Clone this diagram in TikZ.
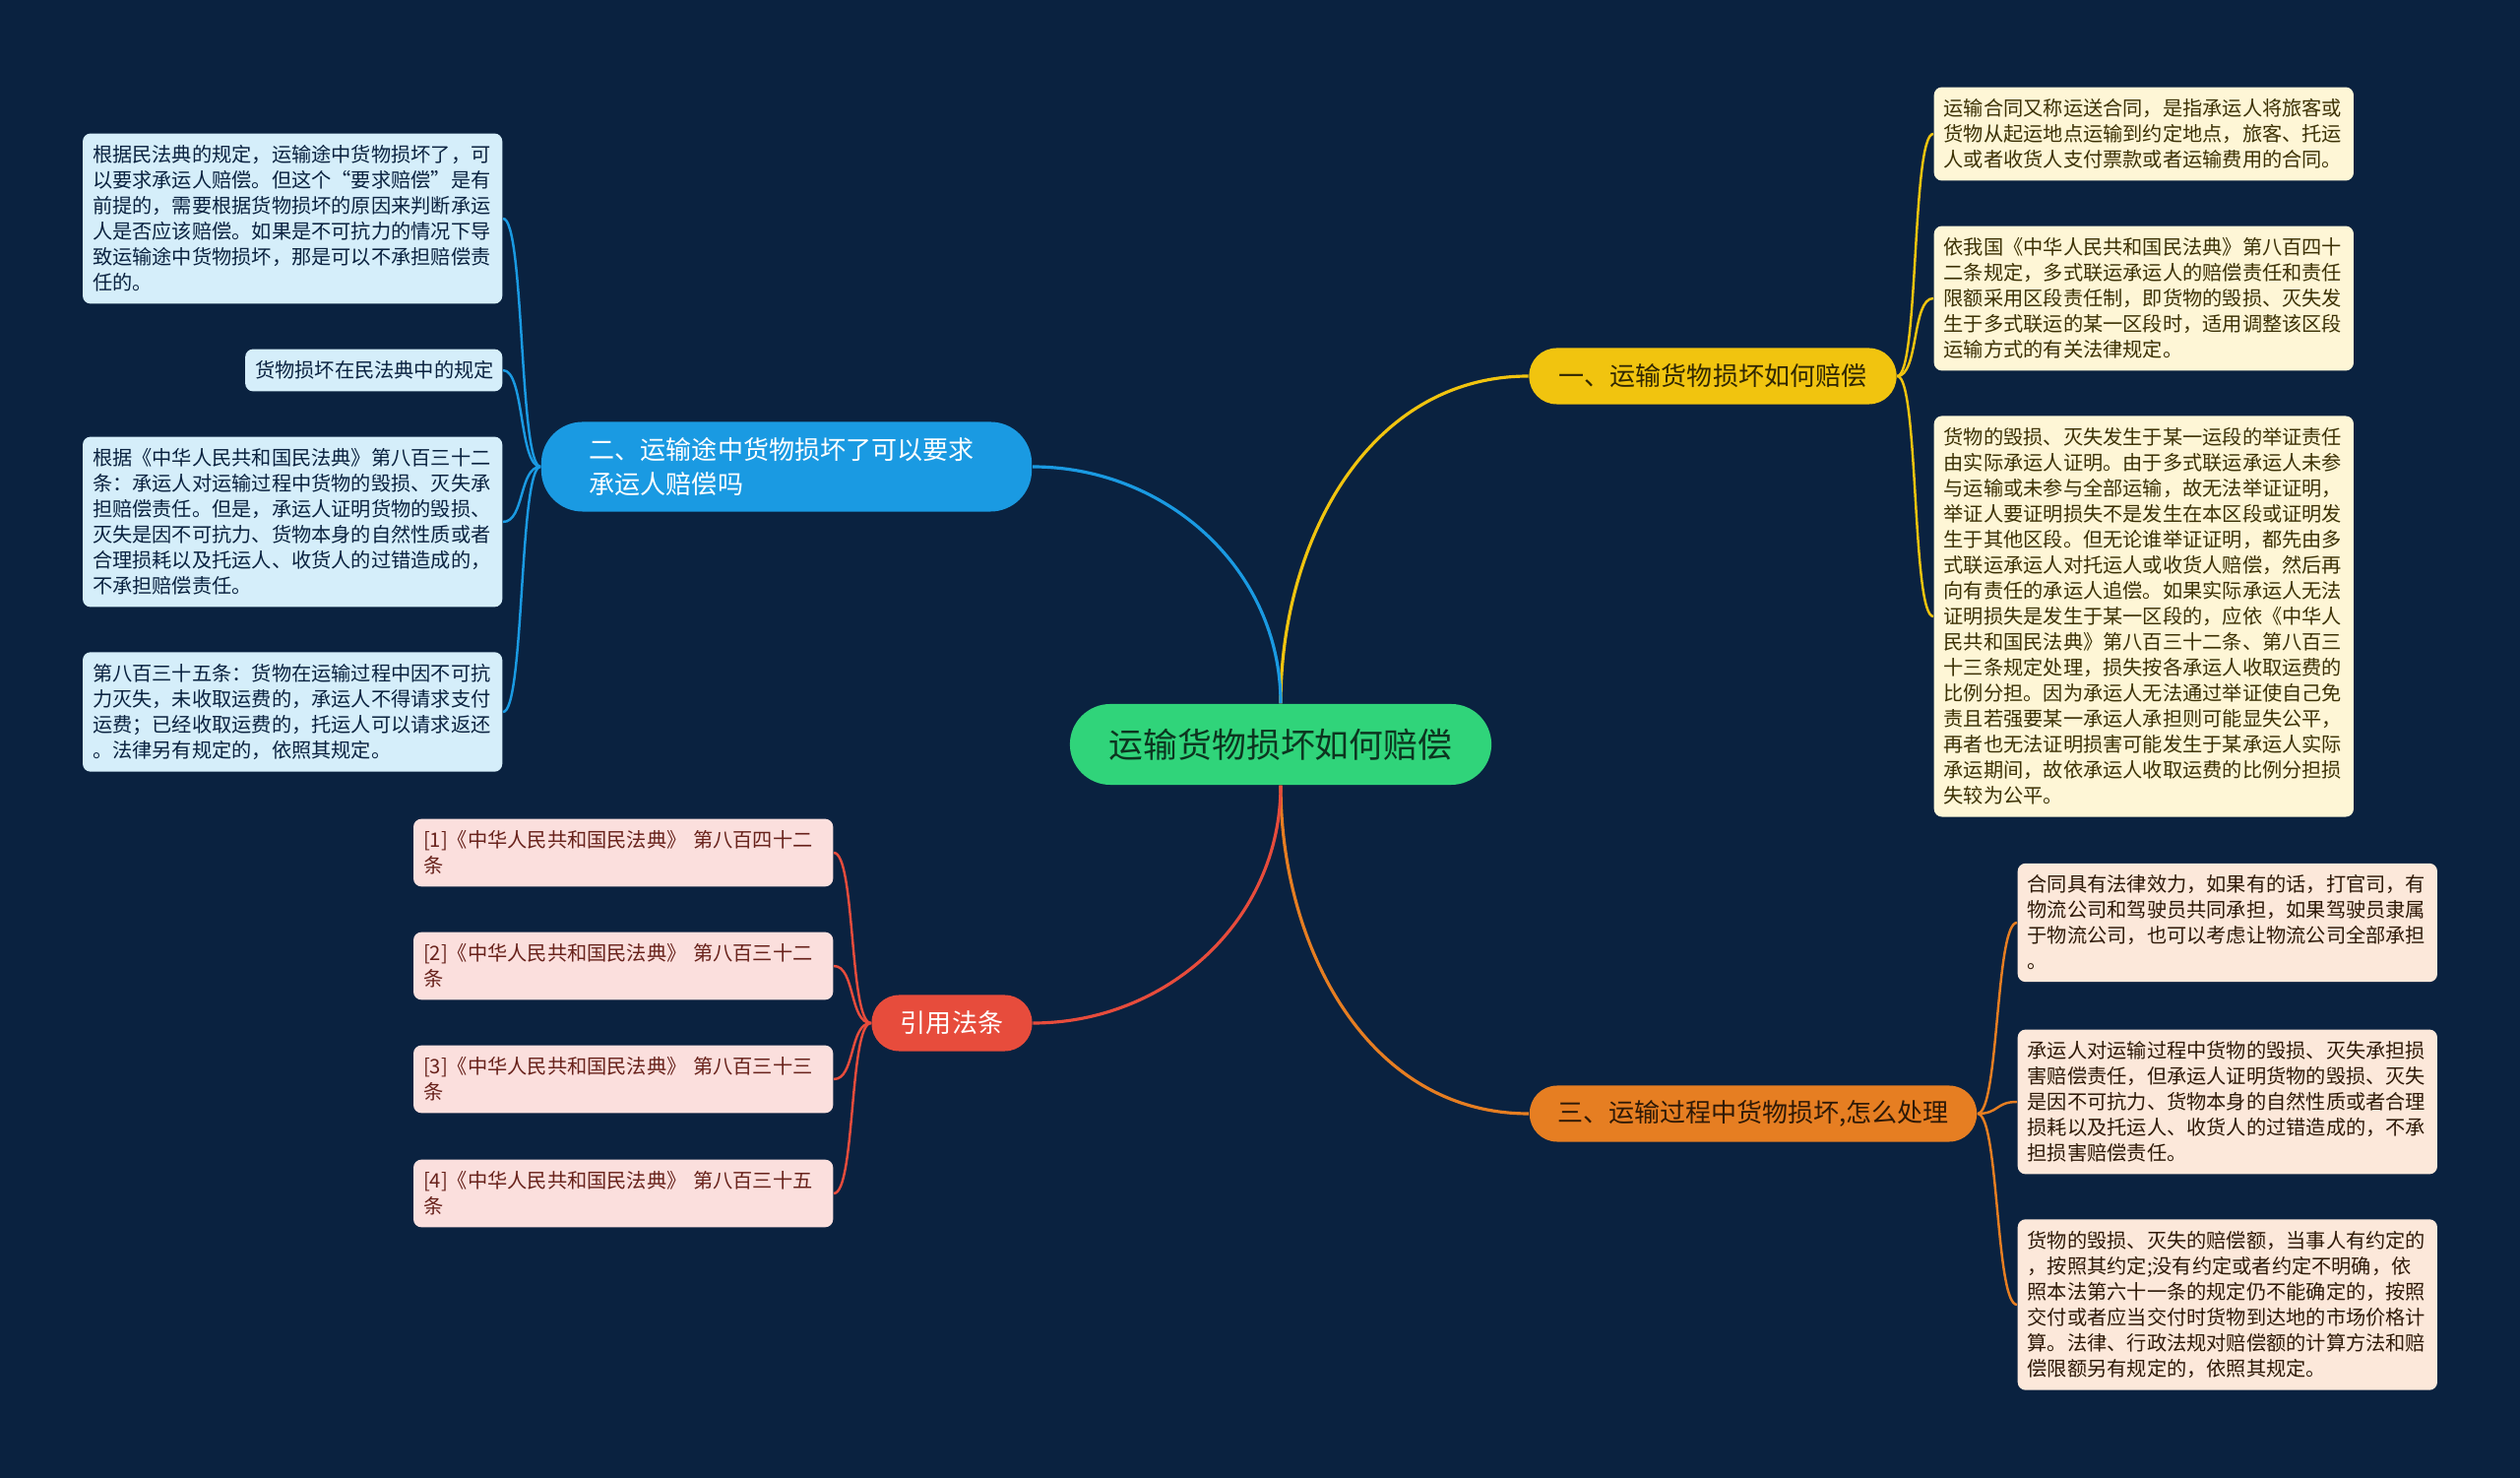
\documentclass[tikz,border=0pt]{standalone}
\usepackage{fontspec}
\setmainfont{Noto Sans CJK SC}
\usepackage{xcolor}
\usetikzlibrary{positioning}
\definecolor{Navy}{HTML}{0A2240}
\definecolor{RootGreen}{HTML}{30D47A}
\definecolor{SunYellow}{HTML}{F1C40F}
\definecolor{SkyBlue}{HTML}{1A9AE2}
\definecolor{Carrot}{HTML}{E67E22}
\definecolor{Brick}{HTML}{E74C3C}
\definecolor{CreamLeaf}{HTML}{FEF6D6}
\definecolor{IceLeaf}{HTML}{D5EEFA}
\definecolor{PeachLeaf}{HTML}{FCE8DA}
\definecolor{RoseLeaf}{HTML}{FBDFDD}
\tikzset{
  leaf/.style={rounded corners=0.08cm, inner xsep=0.1cm, inner ysep=0.12cm,
    text width=4.06cm, align=left, font=\fontsize{5.75pt}{7.4pt}\selectfont},
  branch/.style={rounded corners=0.28cm, inner xsep=0.25cm, minimum height=0.57cm,
    font=\fontsize{7.4pt}{9.7pt}\selectfont},
  mainline/.style={line width=0.9pt},
  leafline/.style={line width=0.7pt},
}

\begin{document}
\begin{tikzpicture}[x=0.01cm,y=-0.01cm]
    \fill[Navy] (0,0) rectangle (2560,1501);
    \useasboundingbox (0,0) rectangle (2560,1501);

    % root
    \node[fill=RootGreen,rounded corners=0.41cm,minimum width=4.28cm,minimum height=0.82cm,
      text=black!75!RootGreen,font=\fontsize{9.9pt}{12pt}\selectfont] (root) at (1301,756) {运输货物损坏如何赔偿};

    % branches
    \node[branch,fill=SunYellow,text=black!80!SunYellow,minimum width=3.73cm] (b1) at (1740,382) {一、运输货物损坏如何赔偿};
    \node[branch,fill=SkyBlue,text=white,minimum width=4.98cm,minimum height=0.91cm,rounded corners=0.42cm,
      text width=4cm,align=left] (b2) at (799,474) {二、运输途中货物损坏了可以要求\\承运人赔偿吗};
    \node[branch,fill=Carrot,text=black!80!Carrot,minimum width=4.54cm] (b3) at (1781,1131) {三、运输过程中货物损坏,怎么处理};
    \node[branch,fill=Brick,text=white,minimum width=1.63cm] (b4) at (967,1039) {引用法条};

    \draw[mainline,SunYellow] (root.north) to[out=90,in=180] (b1.west);
    \draw[mainline,SkyBlue] (root.north) to[out=90,in=0] (b2.east);
    \draw[mainline,Carrot] (root.south) to[out=-90,in=180] (b3.west);
    \draw[mainline,Brick] (root.south) to[out=-90,in=0] (b4.east);

    % leaves of branch one
    \node[leaf,fill=CreamLeaf,text=black!75!SunYellow,anchor=west] (l1a) at (1964,136) {运输合同又称运送合同，是指承运人将旅客或\\货物从起运地点运输到约定地点，旅客、托运\\人或者收货人支付票款或者运输费用的合同。};
    \node[leaf,fill=CreamLeaf,text=black!75!SunYellow,anchor=west] (l1b) at (1964,303) {依我国《中华人民共和国民法典》第八百四十\\二条规定，多式联运承运人的赔偿责任和责任\\限额采用区段责任制，即货物的毁损、灭失发\\生于多式联运的某一区段时，适用调整该区段\\运输方式的有关法律规定。};
    \node[leaf,fill=CreamLeaf,text=black!75!SunYellow,anchor=west] (l1c) at (1964,626) {货物的毁损、灭失发生于某一运段的举证责任\\由实际承运人证明。由于多式联运承运人未参\\与运输或未参与全部运输，故无法举证证明，\\举证人要证明损失不是发生在本区段或证明发\\生于其他区段。但无论谁举证证明，都先由多\\式联运承运人对托运人或收货人赔偿，然后再\\向有责任的承运人追偿。如果实际承运人无法\\证明损失是发生于某一区段的，应依《中华人\\民共和国民法典》第八百三十二条、第八百三\\十三条规定处理，损失按各承运人收取运费的\\比例分担。因为承运人无法通过举证使自己免\\责且若强要某一承运人承担则可能显失公平，\\再者也无法证明损害可能发生于某承运人实际\\承运期间，故依承运人收取运费的比例分担损\\失较为公平。};
    \foreach \leafname in {l1a,l1b,l1c}
      \draw[leafline,SunYellow] (b1.east) .. controls +(22,0) and +(-22,0) .. (\leafname.west);

    % leaves of branch two
    \node[leaf,fill=IceLeaf,text=Navy,anchor=east] (l2a) at (511,222) {根据民法典的规定，运输途中货物损坏了，可\\以要求承运人赔偿。但这个“要求赔偿”是有\\前提的，需要根据货物损坏的原因来判断承运\\人是否应该赔偿。如果是不可抗力的情况下导\\致运输途中货物损坏，那是可以不承担赔偿责\\任的。};
    \node[leaf,fill=IceLeaf,text=Navy,anchor=east,text width=2.41cm] (l2b) at (511,376) {货物损坏在民法典中的规定};
    \node[leaf,fill=IceLeaf,text=Navy,anchor=east] (l2c) at (511,530) {根据《中华人民共和国民法典》第八百三十二\\条：承运人对运输过程中货物的毁损、灭失承\\担赔偿责任。但是，承运人证明货物的毁损、\\灭失是因不可抗力、货物本身的自然性质或者\\合理损耗以及托运人、收货人的过错造成的，\\不承担赔偿责任。};
    \node[leaf,fill=IceLeaf,text=Navy,anchor=east] (l2d) at (511,723) {第八百三十五条：货物在运输过程中因不可抗\\力灭失，未收取运费的，承运人不得请求支付\\运费；已经收取运费的，托运人可以请求返还\\。法律另有规定的，依照其规定。};
    \foreach \leafname in {l2a,l2b,l2c,l2d}
      \draw[leafline,SkyBlue] (b2.west) .. controls +(-22,0) and +(22,0) .. (\leafname.east);

    % leaves of branch three
    \node[leaf,fill=PeachLeaf,text=black!80!Carrot,anchor=west] (l3a) at (2049,937) {合同具有法律效力，如果有的话，打官司，有\\物流公司和驾驶员共同承担，如果驾驶员隶属\\于物流公司，也可以考虑让物流公司全部承担\\。};
    \node[leaf,fill=PeachLeaf,text=black!80!Carrot,anchor=west] (l3b) at (2049,1119) {承运人对运输过程中货物的毁损、灭失承担损\\害赔偿责任，但承运人证明货物的毁损、灭失\\是因不可抗力、货物本身的自然性质或者合理\\损耗以及托运人、收货人的过错造成的，不承\\担损害赔偿责任。};
    \node[leaf,fill=PeachLeaf,text=black!80!Carrot,anchor=west] (l3c) at (2049,1325) {货物的毁损、灭失的赔偿额，当事人有约定的\\，按照其约定;没有约定或者约定不明确，依\\照本法第六十一条的规定仍不能确定的，按照\\交付或者应当交付时货物到达地的市场价格计\\算。法律、行政法规对赔偿额的计算方法和赔\\偿限额另有规定的，依照其规定。};
    \foreach \leafname in {l3a,l3b,l3c}
      \draw[leafline,Carrot] (b3.east) .. controls +(22,0) and +(-22,0) .. (\leafname.west);

    % leaves of branch four
    \node[leaf,fill=RoseLeaf,text=black!55!Brick,anchor=east] (l4a) at (847,866) {[1]《中华人民共和国民法典》 第八百四十二\\条};
    \node[leaf,fill=RoseLeaf,text=black!55!Brick,anchor=east] (l4b) at (847,981) {[2]《中华人民共和国民法典》 第八百三十二\\条};
    \node[leaf,fill=RoseLeaf,text=black!55!Brick,anchor=east] (l4c) at (847,1096) {[3]《中华人民共和国民法典》 第八百三十三\\条};
    \node[leaf,fill=RoseLeaf,text=black!55!Brick,anchor=east] (l4d) at (847,1212) {[4]《中华人民共和国民法典》 第八百三十五\\条};
    \foreach \leafname in {l4a,l4b,l4c,l4d}
      \draw[leafline,Brick] (b4.west) .. controls +(-22,0) and +(22,0) .. (\leafname.east);
\end{tikzpicture}
\end{document}
